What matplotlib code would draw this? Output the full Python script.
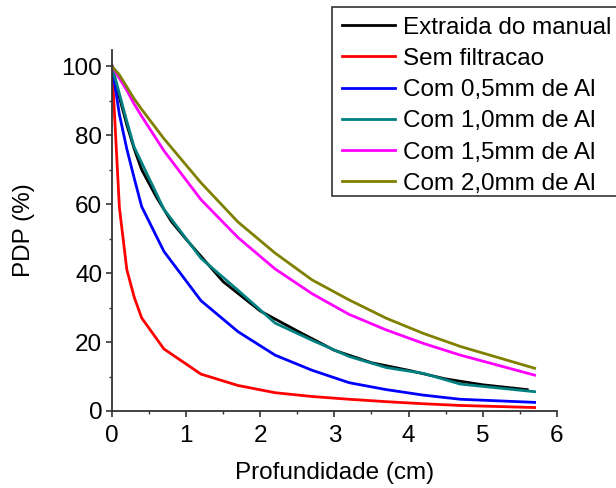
import numpy as np
import matplotlib as mp
mp.use('Agg')
import matplotlib.pyplot as plt
from matplotlib.patches import Rectangle
from matplotlib.ticker import MultipleLocator

mp.rcParams.update({'font.family': 'Liberation Sans', 'font.size': 17.5})

# Depth (cm) for the simulated curves
x_sim = [0, 0.1, 0.2, 0.3, 0.4, 0.7, 1.2, 1.7, 2.2, 2.7, 3.2, 3.7, 4.2, 4.7, 5.7]
# Depth (cm) for the curve taken from the manual
x_manual = [0, 0.1, 0.2, 0.3, 0.4, 0.5, 0.6, 0.8, 1.0, 1.5, 2.0, 2.5, 3.0, 3.5, 4.0, 4.5, 5.0, 5.6]

pdp_manual = [100, 91, 83, 76, 70, 66, 62, 55, 49.8, 37.5, 29, 23.2, 17.6, 14, 11.8, 9.3, 7.6, 6.2]
pdp_sem = [100, 59, 41, 33, 27, 18, 10.7, 7.4, 5.3, 4.2, 3.4, 2.7, 2.1, 1.6, 1.0]
pdp_05 = [100, 86, 76, 67.5, 59.3, 46.3, 32, 23, 16.2, 11.8, 8.2, 6.2, 4.6, 3.4, 2.5]
pdp_10 = [100, 92, 84, 76.5, 72, 58.5, 44.3, 35, 25.5, 20.5, 15.8, 12.6, 10.9, 7.8, 5.6]
pdp_15 = [100, 96.5, 93, 89, 85.5, 75.5, 61.3, 50.3, 41.2, 34, 28, 23.5, 19.6, 16.2, 10.4]
pdp_20 = [100, 97.5, 94, 90.5, 87.5, 79, 66.2, 54.8, 45.8, 38, 32.2, 26.9, 22.5, 18.7, 12.4]

labels = ['Extraida do manual', 'Sem filtracao', 'Com 0,5mm de Al',
          'Com 1,0mm de Al', 'Com 1,5mm de Al', 'Com 2,0mm de Al']

fig = plt.figure(figsize=(6.16, 4.88), dpi=100)
ax = fig.add_axes([0.1818, 0.1578, 0.7222, 0.7397])

ax.plot(x_manual, pdp_manual, color='black', lw=2, label=labels[0])
ax.plot(x_sim, pdp_sem, color='#ff0000', lw=2, label=labels[1])
ax.plot(x_sim, pdp_05, color='#0000ff', lw=2, label=labels[2])
ax.plot(x_sim, pdp_10, color='#008080', lw=2, label=labels[3])
ax.plot(x_sim, pdp_15, color='#ff00ff', lw=2, label=labels[4])
ax.plot(x_sim, pdp_20, color='#808000', lw=2, label=labels[5])

ax.set_xlim(0, 6)
ax.set_ylim(0, 104.7)
ax.xaxis.set_major_locator(MultipleLocator(1))
ax.xaxis.set_minor_locator(MultipleLocator(0.5))
ax.yaxis.set_major_locator(MultipleLocator(20))
ax.yaxis.set_minor_locator(MultipleLocator(10))

for s in ['top', 'right']:
    ax.spines[s].set_visible(False)
for s in ['left', 'bottom']:
    ax.spines[s].set_color('#333333')
    ax.spines[s].set_linewidth(1.3)

ax.tick_params(which='major', direction='out', length=4, width=1.2, color='#333333')
ax.tick_params(which='minor', direction='out', length=2.5, width=1.0, color='#333333')
ax.tick_params(axis='x', which='major', pad=6)
ax.tick_params(axis='y', which='major', pad=3)

ax.set_xlabel('Profundidade (cm)', labelpad=11)
ax.set_ylabel('PDP (%)', labelpad=19)

# legend entries without frame; box drawn separately (it runs off the right edge)
leg = ax.legend(loc='upper left', bbox_to_anchor=(332/616, 1 - 7/488),
                bbox_transform=fig.transFigure, borderaxespad=0,
                frameon=False, handlelength=2.2, handletextpad=0.33,
                labelspacing=0.38)
leg.set_zorder(6)
box = Rectangle((332/616, 1 - 196/488), 0.6, (196 - 7)/488,
                transform=fig.transFigure, facecolor='white',
                edgecolor='#333333', linewidth=1.2, zorder=5, clip_on=False)
ax.add_patch(box)

fig.savefig('out.png', dpi=100)
